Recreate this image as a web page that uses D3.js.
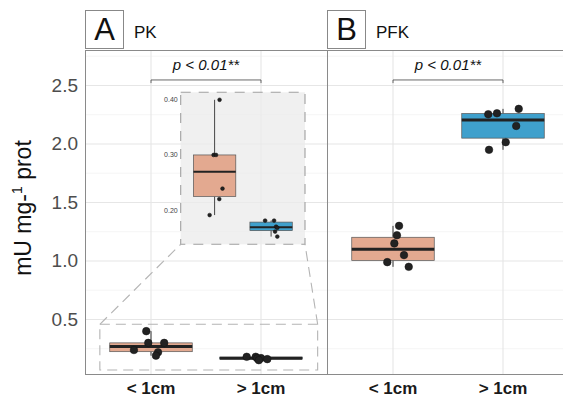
<!DOCTYPE html>
<html lang="en">
<head>
<meta charset="utf-8">
<title>PK / PFK</title>
<script src="https://cdn.jsdelivr.net/npm/d3@7"></script>
<style>
  body { margin: 0; background: #fff; }
  svg { display: block; font-family: "Liberation Sans", Arial, sans-serif; }
  .grid-major { stroke: #e6e6e6; stroke-width: 1.1; }
  .grid-minor { stroke: #efefef; stroke-width: 0.6; }
  .border { fill: none; stroke: #8a8a8a; stroke-width: 1; }
  .ytick { font-size: 19px; fill: #4d4d4d; }
  .xtick { font-size: 17px; font-weight: bold; fill: #1a1a1a; }
</style>
</head>
<body>
<div id="chart"></div>
<script>
var width = 563, height = 399;

// data
var groups = ["< 1cm", "> 1cm"];
var panels = ["A", "B"];
var panelTitles = ["PK", "PFK"];

var pkSmall = [0.40, 0.30, 0.30, 0.239, 0.220, 0.191];
var pkLarge = [0.181, 0.181, 0.170, 0.168, 0.161, 0.152];
var pfkSmall = [1.30, 1.22, 1.15, 1.05, 0.99, 0.95];
var pfkLarge = [2.30, 2.262, 2.254, 2.154, 2.015, 1.95];

// horizontal jitter, in category units
var jitPkSmall = [-0.043, -0.025, 0.12, -0.155, 0.064, 0.045];
var jitPkLarge = [-0.13, -0.048, 0, -0.034, 0.057, -0.02];
var jitPkSmallInset = [0.088, -0.018, 0.025, 0.14, 0.083, -0.088];
var jitPkLargeInset = [-0.106, 0.053, 0.088, 0.11, 0.07, 0.11];
var jitPfkSmall = [0.055, 0.036, 0.012, 0.10, -0.052, 0.143];
var jitPfkLarge = [0.143, -0.055, -0.134, 0.12, 0.025, -0.127];

var yTicks = [0.5, 1.0, 1.5, 2.0, 2.5];
var yMinor = [0.25, 0.75, 1.25, 1.75, 2.25, 2.75];
var insetTicks = [0.20, 0.30, 0.40];
var pLabel = "p < 0.01**";
var fills = ["#e3a990", "#3fa0cc"];

var svg = d3.select("#chart").append("svg")
  .attr("width", width).attr("height", height);

var plotTop = 50, plotBottom = 374;
var panelX = [[85, 327], [327, 569]];

var y = d3.scaleLinear().domain([0.034, 2.803]).range([plotBottom, plotTop]);

function xScale(p) {
  return d3.scaleLinear().domain([0.4, 2.6]).range(panelX[p]);
}

function stats(v) {
  var s = v.slice().sort(d3.ascending);
  var q1 = d3.quantile(s, 0.25), med = d3.quantile(s, 0.5), q3 = d3.quantile(s, 0.75);
  var iqr = q3 - q1;
  var lo = d3.min(s.filter(function (d) { return d >= q1 - 1.5 * iqr; }));
  var hi = d3.max(s.filter(function (d) { return d <= q3 + 1.5 * iqr; }));
  return { q1: q1, med: med, q3: q3, lo: lo, hi: hi };
}

function drawBox(g, xs, ys, i, vals, o) {
  var st = stats(vals);
  var cx = xs(i + 1), hw = (xs(1.375) - xs(1));
  g.append("line").attr("x1", cx).attr("x2", cx)
    .attr("y1", ys(st.hi)).attr("y2", ys(st.q3))
    .attr("stroke", "#333").attr("stroke-width", o.wl);
  g.append("line").attr("x1", cx).attr("x2", cx)
    .attr("y1", ys(st.q1)).attr("y2", ys(st.lo))
    .attr("stroke", "#333").attr("stroke-width", o.wl);
  g.append("rect").attr("x", cx - hw).attr("width", 2 * hw)
    .attr("y", ys(st.q3)).attr("height", Math.max(ys(st.q1) - ys(st.q3), 0.5))
    .attr("fill", fills[i]).attr("stroke", "#555").attr("stroke-width", 0.7);
  g.append("line").attr("x1", cx - hw).attr("x2", cx + hw)
    .attr("y1", ys(st.med)).attr("y2", ys(st.med))
    .attr("stroke", "#222").attr("stroke-width", o.ml);
}

function drawPoints(g, xs, ys, i, vals, jit, r) {
  g.selectAll(null).data(vals).enter().append("circle")
    .attr("cx", function (d, k) { return xs(i + 1 + jit[k]); })
    .attr("cy", function (d) { return ys(d); })
    .attr("r", r)
    .attr("fill", "#222").attr("stroke", "#111").attr("stroke-width", 0.5);
}

// grid + borders for both panels
panels.forEach(function (p, pi) {
  var xs = xScale(pi);
  var g = svg.append("g");
  g.selectAll(null).data(yMinor).enter().append("line")
    .attr("class", "grid-minor")
    .attr("x1", panelX[pi][0]).attr("x2", panelX[pi][1])
    .attr("y1", function (d) { return y(d); }).attr("y2", function (d) { return y(d); });
  g.selectAll(null).data(yTicks).enter().append("line")
    .attr("class", "grid-major")
    .attr("x1", panelX[pi][0]).attr("x2", panelX[pi][1])
    .attr("y1", function (d) { return y(d); }).attr("y2", function (d) { return y(d); });
  g.selectAll(null).data(groups).enter().append("line")
    .attr("class", "grid-major")
    .attr("x1", function (d, i) { return xs(i + 1); }).attr("x2", function (d, i) { return xs(i + 1); })
    .attr("y1", plotTop).attr("y2", plotBottom);

  // x labels
  g.selectAll(null).data(groups).enter().append("text")
    .attr("class", "xtick")
    .attr("x", function (d, i) { return xs(i + 1); })
    .attr("y", 394)
    .attr("text-anchor", "middle")
    .text(function (d) { return d; });

  // strip label
  var bx = panelX[pi][0];
  g.append("rect").attr("x", bx + 0.5).attr("y", 10.5).attr("width", 38).attr("height", 38)
    .attr("fill", "#fff").attr("stroke", "#888");
  g.append("text").attr("x", bx + 19.5).attr("y", 40)
    .attr("text-anchor", "middle").attr("font-size", 31).attr("fill", "#111")
    .text(p);
  g.append("text").attr("x", bx + 49).attr("y", 37.5)
    .attr("font-size", 17).attr("fill", "#111")
    .text(panelTitles[pi]);
});

// y axis labels
svg.selectAll(null).data(yTicks).enter().append("text")
  .attr("class", "ytick")
  .attr("x", 78).attr("y", function (d) { return y(d) + 6.5; })
  .attr("text-anchor", "end")
  .text(function (d) { return d.toFixed(1); });

var yt = svg.append("text")
  .attr("transform", "translate(31," + ((plotTop + plotBottom) / 2 - 4) + ") rotate(-90)")
  .attr("text-anchor", "middle").attr("font-size", 23).attr("fill", "#111");
yt.append("tspan").text("mU mg-");
yt.append("tspan").attr("font-size", 14).attr("dy", -9).text("1");
yt.append("tspan").attr("dy", 9).text(" prot");

// panel A: zoom box and connectors (drawn under the marks)
var xa = xScale(0), xb = xScale(1);
var inset = { x0: 180.7, x1: 305, y0: 92.3, y1: 244.3 };
var zx0 = xa(0.535), zx1 = xa(2.515), zy0 = y(0.459), zy1 = y(0.068);
var dash = { fill: "none", stroke: "#b4b4b4", "stroke-width": 1.1, "stroke-dasharray": "10,6" };
function dashed(sel) { Object.keys(dash).forEach(function (k) { sel.attr(k, dash[k]); }); return sel; }
dashed(svg.append("rect").attr("x", zx0).attr("y", zy0).attr("width", zx1 - zx0).attr("height", zy1 - zy0));
dashed(svg.append("line").attr("x1", zx0).attr("y1", zy0).attr("x2", inset.x0).attr("y2", inset.y1));
dashed(svg.append("line").attr("x1", zx1).attr("y1", zy0).attr("x2", inset.x1).attr("y2", inset.y1));

// main boxes
var gA = svg.append("g");
drawBox(gA, xa, y, 0, pkSmall, { wl: 1, ml: 3 });
drawBox(gA, xa, y, 1, pkLarge, { wl: 1, ml: 3 });
drawPoints(gA, xa, y, 0, pkSmall, jitPkSmall, 3.8);
drawPoints(gA, xa, y, 1, pkLarge, jitPkLarge, 3.8);

var gB = svg.append("g");
drawBox(gB, xb, y, 0, pfkSmall, { wl: 1, ml: 3 });
drawBox(gB, xb, y, 1, pfkLarge, { wl: 1, ml: 3 });
drawPoints(gB, xb, y, 0, pfkSmall, jitPfkSmall, 3.8);
drawPoints(gB, xb, y, 1, pfkLarge, jitPfkLarge, 3.8);

// inset
var xi = d3.scaleLinear().domain([0.4, 2.6]).range([inset.x0, inset.x1]);
var yi = d3.scaleLinear().domain([0.138, 0.4136]).range([inset.y1, inset.y0]);
var gi = svg.append("g");
gi.append("rect").attr("x", inset.x0).attr("y", inset.y0)
  .attr("width", inset.x1 - inset.x0).attr("height", inset.y1 - inset.y0)
  .attr("fill", "#ebebeb").attr("fill-opacity", 0.75);
drawBox(gi, xi, yi, 0, pkSmall, { wl: 0.9, ml: 2 });
drawBox(gi, xi, yi, 1, pkLarge, { wl: 0.9, ml: 2 });
drawPoints(gi, xi, yi, 0, pkSmall, jitPkSmallInset, 1.9);
drawPoints(gi, xi, yi, 1, pkLarge, jitPkLargeInset, 1.9);
dashed(gi.append("rect").attr("x", inset.x0).attr("y", inset.y0)
  .attr("width", inset.x1 - inset.x0).attr("height", inset.y1 - inset.y0))
  .attr("stroke", "#a0a0a0").attr("stroke-dasharray", "10,8");
gi.selectAll(null).data(insetTicks).enter().append("text")
  .attr("x", inset.x0 - 3).attr("y", function (d) { return yi(d) + 2.5; })
  .attr("text-anchor", "end").attr("font-size", 7).attr("fill", "#444")
  .text(function (d) { return d.toFixed(2); });

// significance brackets
[xa, xb].forEach(function (xs) {
  var g = svg.append("g");
  var by = y(2.547), bt = y(2.52);
  g.append("path")
    .attr("d", "M" + xs(1) + "," + bt + "V" + by + "H" + xs(2) + "V" + bt)
    .attr("fill", "none").attr("stroke", "#444").attr("stroke-width", 0.8);
  g.append("text").attr("x", (xs(1) + xs(2)) / 2).attr("y", y(2.63))
    .attr("text-anchor", "middle").attr("font-size", 15).attr("font-style", "italic")
    .attr("fill", "#111").text(pLabel);
});

// panel borders
panelX.forEach(function (px) {
  svg.append("rect").attr("class", "border")
    .attr("x", px[0] + 0.5).attr("y", plotTop + 0.5)
    .attr("width", px[1] - px[0]).attr("height", plotBottom - plotTop);
});
</script>
</body>
</html>
